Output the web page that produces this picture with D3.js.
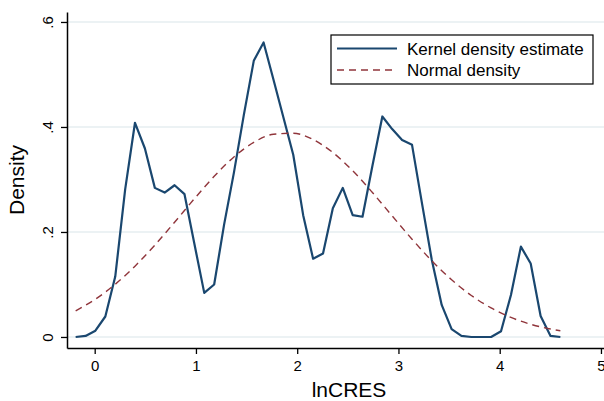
<!DOCTYPE html>
<html>
<head>
<meta charset="utf-8">
<script src="https://cdn.jsdelivr.net/npm/d3@7"></script>
<style>
  body { margin: 0; background: #fff; }
  svg { display: block; font-family: "Liberation Sans", Arial, Helvetica, sans-serif; }
</style>
</head>
<body>
<div id="chart"></div>
<script>
// grid of evaluation points (lnCRES)
const xs = [-0.188, -0.090, 0.007, 0.105, 0.203, 0.301, 0.398, 0.496, 0.594, 0.691,
            0.789, 0.887, 0.984, 1.082, 1.180, 1.278, 1.375, 1.473, 1.571, 1.668,
            1.766, 1.864, 1.961, 2.059, 2.157, 2.255, 2.352, 2.450, 2.548, 2.645,
            2.743, 2.841, 2.938, 3.036, 3.134, 3.232, 3.329, 3.427, 3.525, 3.622,
            3.720, 3.818, 3.915, 4.013, 4.111, 4.209, 4.306, 4.404, 4.502, 4.599];

// kernel density estimate
const kdens = [0.000, 0.002, 0.012, 0.039, 0.115, 0.281, 0.408, 0.359, 0.284, 0.275,
               0.289, 0.272, 0.178, 0.084, 0.100, 0.214, 0.313, 0.423, 0.526, 0.561,
               0.490, 0.418, 0.347, 0.232, 0.149, 0.159, 0.245, 0.284, 0.232, 0.229,
               0.326, 0.420, 0.396, 0.375, 0.366, 0.255, 0.147, 0.061, 0.015, 0.002,
               0.000, 0.000, 0.000, 0.011, 0.080, 0.172, 0.140, 0.040, 0.002, 0.000];

// normal density (read at every other grid point)
const normX = [-0.188, 0.007, 0.203, 0.398, 0.594, 0.789, 0.984, 1.180, 1.375, 1.571,
               1.766, 1.961, 2.157, 2.352, 2.548, 2.743, 2.938, 3.134, 3.329, 3.525,
               3.720, 3.915, 4.111, 4.306, 4.502, 4.599];
const normY = [0.0498, 0.0720, 0.1004, 0.1349, 0.1749, 0.2185, 0.2632, 0.3060, 0.3429, 0.3706,
               0.3862, 0.3881, 0.3760, 0.3514, 0.3166, 0.2751, 0.2306, 0.1863, 0.1452, 0.1090,
               0.0790, 0.0553, 0.0372, 0.0242, 0.0151, 0.0118];

const xTicks = [0, 1, 2, 3, 4, 5];
const yTicks = [0, 0.2, 0.4, 0.6];
const yTickLabels = ["0", ".2", ".4", ".6"];
const seriesNames = ["Kernel density estimate", "Normal density"];

const width = 604, height = 401;
const plot = {left: 67, right: 604, top: 12, bottom: 348};

const svg = d3.select("#chart").append("svg")
  .attr("width", width)
  .attr("height", height);

const x = d3.scaleLinear().domain([-0.2735, 5.03]).range([plot.left, plot.right]);
const y = d3.scaleLinear().domain([-0.021, 0.619]).range([plot.bottom, plot.top]);

// gridlines
svg.append("g")
  .selectAll("line")
  .data(yTicks)
  .join("line")
    .attr("x1", plot.left)
    .attr("x2", plot.right)
    .attr("y1", d => y(d))
    .attr("y2", d => y(d))
    .attr("stroke", "#e6eef0")
    .attr("stroke-width", 1.5);

// lines
const line = d3.line().x(d => x(d[0])).y(d => y(d[1]));

svg.append("path")
  .datum(xs.map((v, i) => [v, kdens[i]]))
  .attr("d", line)
  .attr("fill", "none")
  .attr("stroke", "#1a476f")
  .attr("stroke-width", 2.2)
  .attr("stroke-linejoin", "round");

svg.append("path")
  .datum(normX.map((v, i) => [v, normY[i]]))
  .attr("d", line.curve(d3.curveMonotoneX))
  .attr("fill", "none")
  .attr("stroke", "#90353b")
  .attr("stroke-width", 1.4)
  .attr("stroke-dasharray", "7,5");

// axes
const xAxis = svg.append("g")
  .attr("transform", `translate(0,${plot.bottom})`)
  .call(d3.axisBottom(x).tickValues(xTicks).tickFormat(d3.format("d")).tickSize(6).tickSizeOuter(0).tickPadding(6));
xAxis.select(".domain").attr("stroke-width", 1.5);
xAxis.selectAll(".tick line").attr("stroke-width", 1.3);
xAxis.selectAll(".tick text").attr("font-size", 15).attr("fill", "#000");

const yAxis = svg.append("g")
  .attr("transform", `translate(${plot.left},0)`)
  .call(d3.axisLeft(y).tickValues(yTicks).tickFormat((d, i) => yTickLabels[i]).tickSize(6).tickSizeOuter(0));
yAxis.select(".domain").attr("stroke-width", 1.5);
yAxis.selectAll(".tick line").attr("stroke-width", 1.3);
yAxis.selectAll(".tick text")
  .attr("font-size", 15)
  .attr("fill", "#000")
  .attr("x", null)
  .attr("dy", null)
  .attr("text-anchor", "middle")
  .attr("transform", "translate(-14,0) rotate(-90)");

// axis titles
svg.append("text")
  .attr("x", 349)
  .attr("y", 397)
  .attr("text-anchor", "middle")
  .attr("font-size", 21)
  .text("lnCRES");

svg.append("text")
  .attr("transform", `translate(24,${(plot.top + plot.bottom) / 2}) rotate(-90)`)
  .attr("text-anchor", "middle")
  .attr("font-size", 21)
  .text("Density");

// legend
const legend = svg.append("g").attr("transform", "translate(331,35)");
legend.append("rect")
  .attr("width", 262)
  .attr("height", 49)
  .attr("fill", "#fff")
  .attr("stroke", "#000")
  .attr("stroke-width", 1.2);

const styles = [
  {color: "#1a476f", width: 2.2, dash: null},
  {color: "#90353b", width: 1.4, dash: "7,5"}
];
seriesNames.forEach((name, i) => {
  const yy = 13.5 + i * 21.5;
  legend.append("line")
    .attr("x1", 6).attr("x2", 66)
    .attr("y1", yy).attr("y2", yy)
    .attr("stroke", styles[i].color)
    .attr("stroke-width", styles[i].width)
    .attr("stroke-dasharray", styles[i].dash);
  legend.append("text")
    .attr("x", 76)
    .attr("y", yy + 6)
    .attr("font-size", 17)
    .text(name);
});
</script>
</body>
</html>
